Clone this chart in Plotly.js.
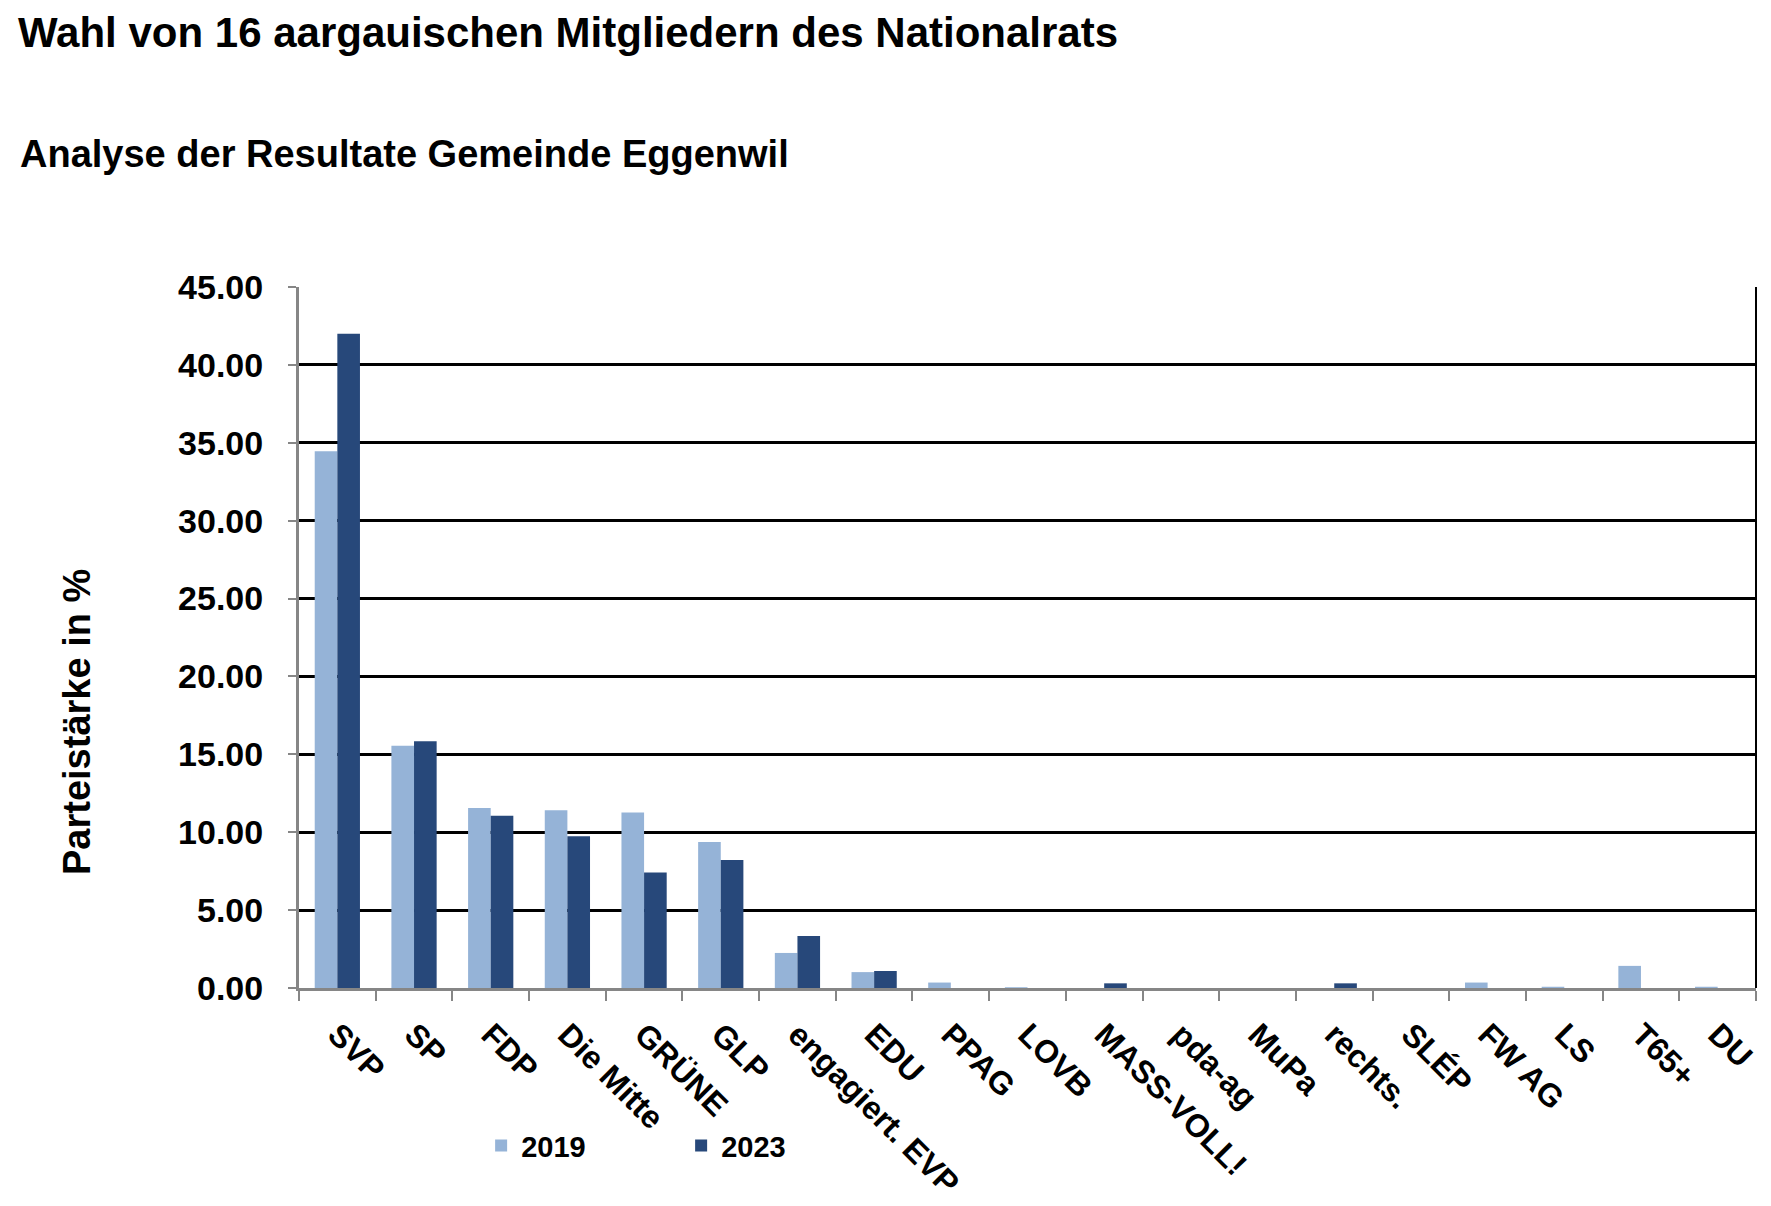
<!DOCTYPE html>
<html>
<head>
<meta charset="utf-8">
<script src="https://cdn.plot.ly/plotly-3.0.1.min.js"></script>
<style>
  html, body { margin: 0; padding: 0; background: #fff; }
  #chart { width: 1771px; height: 1206px; }
</style>
</head>
<body>
<div id="chart"></div>
<script>
// Parteien und Parteistärken (%) - Gemeinde Eggenwil
const parteien = ["SVP", "SP", "FDP", "Die Mitte", "GRÜNE", "GLP", "engagiert. EVP", "EDU",
  "PPAG", "LOVB", "MASS-VOLL!", "pda-ag", "MuPa", "rechts.", "SLÉP", "FW AG", "LS", "T65+", "DU"];
const werte2019 = [34.45, 15.55, 11.56, 11.41, 11.26, 9.37, 2.25, 1.02,
  0.35, 0.05, 0, 0, 0, 0, 0, 0.35, 0.08, 1.42, 0.08];
const werte2023 = [42.0, 15.84, 11.05, 9.74, 7.41, 8.21, 3.34, 1.09,
  0, 0, 0.30, 0, 0, 0.30, 0, 0, 0, 0, 0];
const jahre = ["2019", "2023"];

const schrift = "Liberation Sans, Arial, sans-serif";
const grau = "#868686";

var trace1 = {
  x: parteien,
  y: werte2019,
  name: jahre[0],
  type: "bar",
  marker: { color: "#95B3D7" }
};

var trace2 = {
  x: parteien,
  y: werte2023,
  name: jahre[1],
  type: "bar",
  marker: { color: "#27487A" }
};

var data = [trace1, trace2];

var layout = {
  width: 1771,
  height: 1206,
  paper_bgcolor: "#fff",
  plot_bgcolor: "#fff",
  font: { family: schrift, color: "#000" },
  margin: { l: 299, r: 15, t: 287, b: 218 },
  barmode: "group",
  bargap: 0.41,
  bargroupgap: 0,
  title: {
    text: "<b>Wahl von 16 aargauischen Mitgliedern des Nationalrats</b>",
    font: { size: 42, family: schrift, color: "#000" },
    xref: "container", x: 18 / 1771, xanchor: "left",
    yref: "container", y: 1 - 32 / 1206, yanchor: "middle"
  },
  annotations: [{
    text: "<b>Analyse der Resultate Gemeinde Eggenwil</b>",
    font: { size: 38, family: schrift, color: "#000" },
    xref: "paper", x: (18 - 299) / 1457, xanchor: "left",
    yref: "paper", y: (988 - 154) / 701, yanchor: "middle",
    showarrow: false
  }, {
    // Achsentitel (im Original nicht mittig zur Achse)
    text: "<b>Parteistärke in %</b>",
    font: { size: 38, family: schrift, color: "#000" },
    textangle: -90,
    xref: "paper", x: (77 - 299) / 1457, xanchor: "center",
    yref: "paper", y: (988 - 722) / 701, yanchor: "middle",
    showarrow: false
  }],
  shapes: [{
    type: "line", xref: "paper", yref: "paper",
    x0: 1, x1: 1, y0: 0, y1: 1,
    line: { color: "#000", width: 2 }
  }],
  xaxis: {
    type: "category",
    tickangle: 45,
    tickfont: { size: 32, family: schrift, color: "#000", weight: "bold" },
    showline: true, linecolor: grau, linewidth: 3,
    ticks: "outside", tickson: "boundaries", ticklen: 10, tickwidth: 2, tickcolor: grau,
    ticklabelstandoff: 12,
    showgrid: false, zeroline: false
  },
  yaxis: {
    range: [0, 45],
    dtick: 5,
    tickformat: ".2f",
    tickfont: { size: 34, family: schrift, color: "#000", weight: "bold" },
    showline: true, linecolor: grau, linewidth: 3,
    ticks: "outside", ticklen: 8, tickwidth: 2, tickcolor: grau,
    ticklabelstandoff: 18,
    showgrid: true, gridcolor: "#000", gridwidth: 3,
    zeroline: false
  },
  showlegend: true,
  legend: {
    orientation: "h",
    x: 0.125, xanchor: "left",
    y: -0.225, yanchor: "middle",
    font: { size: 29, family: schrift, color: "#000", weight: "bold" },
    entrywidth: 155,
    itemwidth: 30,
    bgcolor: "rgba(0,0,0,0)"
  }
};

Plotly.newPlot("chart", data, layout, { displayModeBar: false, staticPlot: true });
</script>
</body>
</html>
